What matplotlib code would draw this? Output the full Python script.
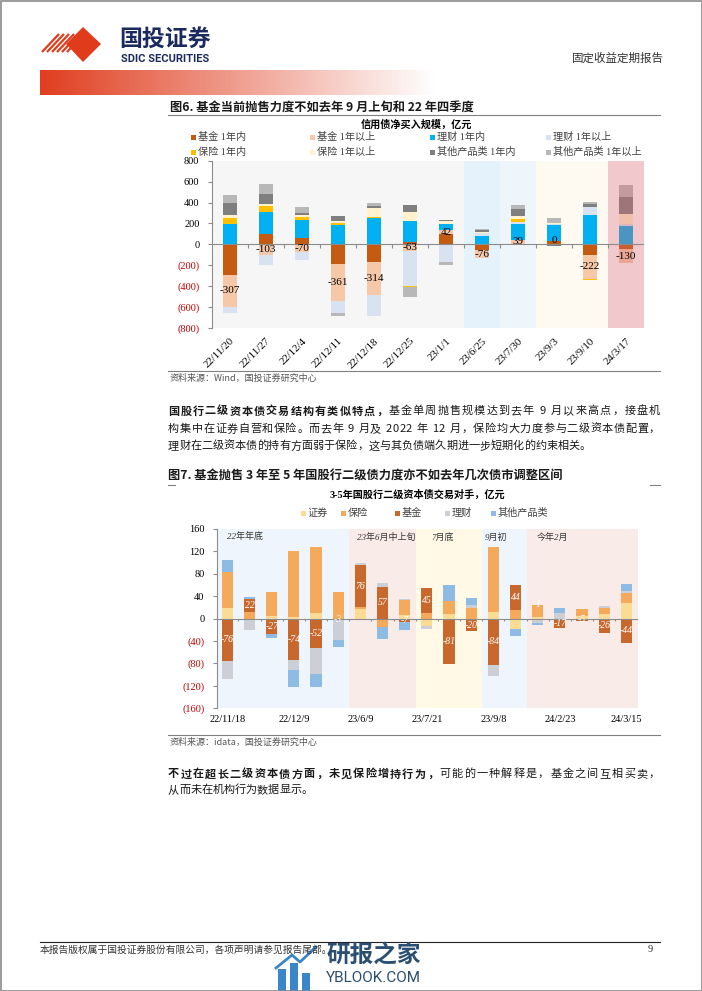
import numpy as np
import matplotlib
matplotlib.use('Agg')
import matplotlib.pyplot as plt
from matplotlib.patches import Rectangle, Polygon

plt.rcParams['font.family'] = ['Liberation Serif', 'Noto Sans CJK SC', 'DejaVu Sans']
plt.rcParams['axes.unicode_minus'] = False
CJK = ['Noto Sans CJK SC', 'DejaVu Sans']

# ---------------- 图6 data: 信用债净买入规模，亿元 ----------------
dates6 = ['22/11/20', '22/11/27', '22/12/4', '22/12/11', '22/12/18', '22/12/25',
          '23/1/1', '23/6/25', '23/7/30', '23/9/3', '23/9/10', '24/3/17']
names6 = ['基金 1年内', '基金 1年以上', '理财 1年内', '理财 1年以上',
          '保险 1年内', '保险 1年以上', '其他产品类 1年内', '其他产品类 1年以上']
fund_s = [-290, 102, 63, -184, -171, 20, 95, -57, 5, 35, -105, -48]
fund_l = [-307, -103, -70, -361, -314, -63, 42, -76, 39, 0, -222, -130]
wm_s = [197, 212, 172, 187, 254, 208, 60, 76, 153, 146, 283, 175]
wm_l = [-55, -92, -80, -114, -200, -337, -171, 30, 15, 14, 72, 15]
ins_s = [57, 50, 25, 19, 8, -12, 0, 0, 35, 0, -13, 0]
ins_l = [30, 18, 18, 16, 84, 77, 30, 15, 25, 10, 0, 96]
oth_s = [110, 100, 25, 45, 24, 72, 10, 14, 65, -15, 32, 171]
oth_l = [76, 95, 55, -24, 22, -88, -25, 8, 35, 45, 19, 114]
colors6 = ['#c55a11', '#f6c8a8', '#00b0f0', '#d9e2f0', '#ffc000', '#fff2cc', '#7f7f7f', '#b8b8b8']

# ---------------- 图7 data: 3-5年国股行二级资本债交易对手，亿元 ----------------
dates7 = ['22/11/18', '22/11/25', '22/12/2', '22/12/9', '22/12/16', '22/12/23',
          '23/6/9', '23/6/16', '23/6/21', '23/7/21', '23/7/28', '23/8/4',
          '23/9/8', '23/9/15', '24/2/9', '24/2/23', '24/3/1', '24/3/8', '24/3/15']
names7 = ['证券', '保险', '基金', '理财', '其他产品类']
sec = [19, 0, 5, 3, 10, 0, 17, 0, 7, -13, 8, -3, 11, -19, 3, 0, 4, 8, 27]
ins = [64, 12, 43, 117, 118, 48, 3, -16, 26, 10, 24, 18, 116, 16, 21, 0, 13, 10, 19]
fund = [-76, 22, -27, -74, -52, -3, 76, 57, -7, 45, -81, -20, -84, 44, 1, -17, -5, -26, -44]
wmp = [-32, -20, 0, -18, -48, -36, 3, 7, 2, -5, 0, 7, -19, 0, -8, 10, 0, 4, 4]
other = [22, 4, -7, -30, -22, -12, 0, -21, -13, 0, 27, 12, 0, -12, -4, 8, 0, 0, 11]
colors7 = ['#fadc95', '#f5a95b', '#c8682c', '#ccd0d6', '#8dbbe3']
periods7 = ['22年年底', '23年6月中上旬', '7月底', '9月初', '今年2月']

W, H = 702, 991
fig = plt.figure(figsize=(W / 100, H / 100), dpi=100)
bg = fig.add_axes([0, 0, 1, 1])
bg.axis('off')


def px_axes(x0, y0, x1, y1):
    return fig.add_axes([x0 / W, 1 - y1 / H, (x1 - x0) / W, (y1 - y0) / H])


def ylab(v):
    return '(%d)' % abs(v) if v < 0 else '%d' % v


def stack(ax, x, series, colors, width):
    pos = np.zeros(len(x))
    neg = np.zeros(len(x))
    bottoms = []
    for vals, c in zip(series, colors):
        v = np.array(vals, float)
        b = np.where(v >= 0, pos, neg)
        ax.bar(x, v, width, bottom=b, color=c, lw=0, zorder=2)
        bottoms.append(b)
        pos += np.clip(v, 0, None)
        neg += np.clip(v, None, 0)
    return bottoms


def style_axes(ax, ticks):
    for s in ['top', 'right', 'bottom']:
        ax.spines[s].set_visible(False)
    ax.spines['left'].set_color('#8c8c8c')
    ax.set_yticks(ticks)
    ax.set_yticklabels([ylab(t) for t in ticks], fontsize=7.5)
    for t, v in zip(ax.get_yticklabels(), ticks):
        t.set_color('#c00000' if v < 0 else 'black')
    ax.tick_params(axis='y', length=3, color='#8c8c8c', pad=6)
    ax.set_facecolor('none')


# ---------------- page header ----------------
grad = np.zeros((1, 256, 4))
grad[..., 0] = 0.88
grad[..., 1] = 0.24
grad[..., 2] = 0.12
grad[..., 3] = np.linspace(1, 0, 256)
bg.imshow(grad, extent=[40, 436, 95, 70], aspect='auto', interpolation='bilinear')
bg.add_patch(Polygon([[66, 44], [83, 27], [101, 44], [83, 62]], closed=True, color='#e03c1c', lw=0))
for i in range(6):
    x = 42 + i * 5
    bg.plot([x, x + 17], [52, 34], color='#e03c1c', lw=1.6, solid_capstyle='butt')
bg.text(119, 39.5, '国投证券', fontsize=16.5, fontweight='bold', color='#1b2a5e', family=CJK, va='center')
bg.text(121, 59, 'SDIC SECURITIES', fontsize=8, fontweight='bold', color='#1b2a5e',
        family=['Roboto', 'DejaVu Sans'], va='center')
bg.text(664, 58, '固定收益定期报告', fontsize=8.3, color='#333333', family=CJK, va='center', ha='right')

# ---------------- 图6 ----------------
bg.text(170, 107, '图6. 基金当前抛售力度不如去年 9 月上旬和 22 年四季度', fontsize=8.8,
        fontweight='bold', family=CJK, va='center', color='#1a1a1a')
bg.plot([168, 660], [114.5, 114.5], color='#808080', lw=0.8)
bg.text(416, 125, '信用债净买入规模，亿元', fontsize=7.3, fontweight='bold', family=CJK,
        va='center', ha='center')
leg_x6 = [193, 312, 432, 548]
leg_y6 = [137, 152]
for i, (n, c) in enumerate(zip(names6, colors6)):
    lx, ly = leg_x6[i % 4], leg_y6[i // 4]
    bg.add_patch(Rectangle((lx - 2.5, ly - 2.5), 5, 5, color=c, lw=0))
    bg.text(lx + 5, ly, n, fontsize=7.3, color='#404040', va='center')

ax6 = px_axes(212, 160.7, 644, 328)
x6 = np.arange(len(dates6))
b6 = stack(ax6, x6, [fund_s, fund_l, wm_s, wm_l, ins_s, ins_l, oth_s, oth_l], colors6, 0.38)
for i, v in enumerate(fund_l):
    ax6.text(i, b6[1][i] + v / 2, '%d' % v, ha='center', va='center', fontsize=8, zorder=5)
ax6.axvspan(-0.5, 6.5, color='#f6f6f6', lw=0, zorder=0)
ax6.axvspan(6.5, 7.5, color='#e3f2fb', lw=0, zorder=0)
ax6.axvspan(7.5, 8.5, color='#eef6fc', lw=0, zorder=0)
ax6.axvspan(8.5, 10.5, color='#fefaf1', lw=0, zorder=0)
ax6.axvspan(10.5, 11.5, color='#d9646e', alpha=0.35, lw=0, zorder=3)
ax6.axhline(0, color='#8c8c8c', lw=0.8, zorder=3)
ax6.vlines(x6[:-1] + 0.5, -38, 0, color='#8c8c8c', lw=0.8, zorder=3)
ax6.set_xlim(-0.5, 11.5)
ax6.set_ylim(-800, 800)
style_axes(ax6, np.arange(-800, 801, 200))
ax6.set_xticks(x6)
ax6.set_xticklabels(dates6, rotation=45, ha='right', va='top', rotation_mode='anchor', fontsize=7.8)
ax6.tick_params(axis='x', length=0, pad=6)

bg.plot([168, 660], [371, 371], color='#808080', lw=0.8)
bg.text(170, 378, '资料来源：Wind，国投证券研究中心', fontsize=6.5, style='italic', color='#555555',
        family=CJK, va='center')


# ---------------- body text ----------------
def par_line(segs, x0, y, size=8, x1=None):
    r = fig.canvas.get_renderer()
    items = []
    for txt, bold in segs:
        for ch in txt:
            t = bg.text(0, y, ch, fontsize=size, fontweight='bold' if bold else 'normal',
                        family=CJK, va='center', ha='left', color='#1a1a1a')
            w = 0.28 * size * 100 / 72 if ch == ' ' else t.get_window_extent(r).width
            items.append((t, w))
    total = sum(w for _, w in items)
    gap = 0 if x1 is None else (x1 - x0 - total) / (len(items) - 1)
    x = x0
    for t, w in items:
        t.set_x(x)
        x += w + gap


bg.set_xlim(0, W)
bg.set_ylim(H, 0)
par_line([('国股行二级资本债交易结构有类似特点，', True),
          ('基金单周抛售规模达到去年 9 月以来高点，接盘机', False)], 168, 411, x1=660)
par_line([('构集中在证券自营和保险。而去年 9 月及 2022 年 12 月，保险均大力度参与二级资本债配置，', False)],
         168, 429, x1=660)
par_line([('理财在二级资本债的持有方面弱于保险，这与其负债端久期进一步短期化的约束相关。', False)], 168, 446)

# ---------------- 图7 ----------------
bg.text(168, 476, '图7. 基金抛售 3 年至 5 年国股行二级债力度亦不如去年几次债市调整区间', fontsize=8.8,
        fontweight='bold', family=CJK, va='center', color='#1a1a1a')
bg.plot([168, 175], [485, 485], color='#808080', lw=0.8)
bg.plot([650, 660], [485, 485], color='#808080', lw=0.8)
bg.text(417, 495, '3-5年国股行二级资本债交易对手，亿元', fontsize=7.3, fontweight='bold',
        va='center', ha='center')
leg_x7 = [303, 343, 397, 447, 493]
for lx, n, c in zip(leg_x7, names7, colors7):
    bg.add_patch(Rectangle((lx - 2.5, 513 - 2.5), 5, 5, color=c, lw=0))
    bg.text(lx + 5, 513, n, fontsize=7.3, color='#404040', va='center')

ax7 = px_axes(216.9, 529, 638.1, 708)
x7 = np.arange(len(dates7))
b7 = stack(ax7, x7, [sec, ins, fund, wmp, other], colors7, 0.5)
for i, v in enumerate(fund):
    ax7.text(i, b7[2][i] + v / 2, '%d' % v, ha='center', va='center', fontsize=7,
             style='italic', color='white', zorder=5)
spans = [(-0.47, 5.5, '#eef5fc'), (5.5, 8.5, '#f9ece8'), (8.5, 11.5, '#fff9e6'),
         (11.5, 13.5, '#eef5fc'), (13.5, 18.53, '#f9ece8')]
label_x = [0.0, 5.85, 9.23, 11.62, 13.97]
for (a, b, c), lx, p in zip(spans, label_x, periods7):
    ax7.axvspan(a, b, color=c, lw=0, zorder=0)
    ax7.text(lx, 145, p, fontsize=6.5, style='italic', color='#333333', va='center', zorder=5)
ax7.axhline(0, color='#8c8c8c', lw=0.8, zorder=3)
ax7.vlines(x7[:-1] + 0.5, -5, 0, color='#8c8c8c', lw=0.8, zorder=3)
ax7.set_xlim(-0.47, 18.53)
ax7.set_ylim(-160, 160)
style_axes(ax7, np.arange(-160, 161, 40))
ax7.set_xticks(x7[::3])
ax7.set_xticklabels(dates7[::3], fontsize=7.5)
ax7.tick_params(axis='x', length=0, pad=5)

bg.plot([168, 660], [734.5, 734.5], color='#808080', lw=0.8)
bg.text(170, 742, '资料来源：idata，国投证券研究中心', fontsize=6.5, style='italic', color='#555555',
        family=CJK, va='center')

par_line([('不过在超长二级资本债方面，未见保险增持行为，', True),
          ('可能的一种解释是，基金之间互相买卖，', False)], 168, 774, x1=660)
par_line([('从而未在机构行为数据显示。', False)], 168, 790)

# ---------------- footer ----------------
bg.plot([40, 660], [942, 942], color='#222222', lw=0.8)
bg.text(40, 950, '本报告版权属于国投证券股份有限公司，各项声明请参见报告尾部。', fontsize=7,
        family=CJK, va='center', color='#333333')
bg.text(648, 950, '9', fontsize=7.5, va='center', color='#333333')
for bx, bh in zip([278, 290, 302], [22, 28, 18]):
    bg.add_patch(Rectangle((bx, 991 - bh), 8, bh, color='#3a86c8', lw=0))
bg.plot([276, 292, 300, 316], [968, 955, 962, 947], color='#3a86c8', lw=2)
bg.text(326, 955, '研报之家', fontsize=17, fontweight='bold', color='#2b4f72', family=CJK, va='center')
bg.text(326, 978, 'YBLOOK.COM', fontsize=11, color='#2b4f72', family=['Roboto', 'DejaVu Sans'],
        va='center')
bg.add_patch(Rectangle((0.5, 0.5), W - 1, H - 1, fill=False, ec='#8a8a8a', lw=1.2))

bg.set_xlim(0, W)
bg.set_ylim(H, 0)
fig.savefig('out.png', dpi=100)
